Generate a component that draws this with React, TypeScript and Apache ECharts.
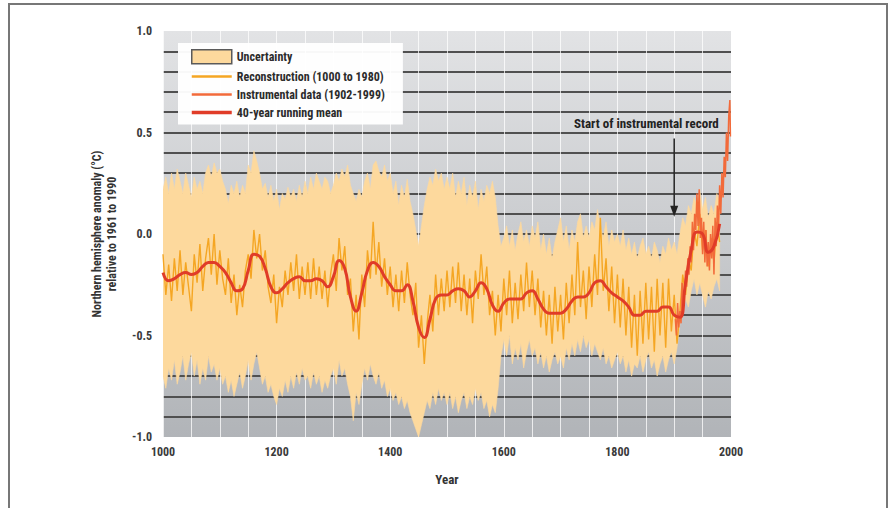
import React, { useEffect, useRef } from 'react';
import * as echarts from 'echarts';

const FONT = "'Liberation Sans Narrow', 'Roboto Condensed', 'DejaVu Sans Condensed', sans-serif";

// Reconstruction, sampled every 5 years from 1000 to 1980
const RECON_START = 1000;
const RECON_STEP = 5;
const reconValues = [
  -0.10, -0.30, -0.15, -0.33, -0.12, -0.28, -0.08, -0.30, -0.14, -0.26, -0.38, -0.10, -0.24, -0.05, -0.28, -0.12, -0.02, -0.20, 0.00, -0.25,
  -0.08, -0.22, -0.30, -0.12, -0.34, -0.20, -0.40, -0.25, -0.36, -0.18, -0.10, -0.22, 0.02, -0.12, 0.00, -0.18, -0.08, -0.26, -0.34, -0.20,
  -0.44, -0.26, -0.36, -0.18, -0.30, -0.14, -0.28, -0.10, -0.32, -0.16, -0.30, -0.14, -0.32, -0.12, -0.30, -0.16, -0.32, -0.18, -0.36, -0.20,
  -0.10, -0.28, -0.02, -0.18, -0.06, -0.30, -0.22, -0.48, -0.30, -0.52, -0.20, -0.36, -0.08, -0.22, 0.06, -0.20, -0.04, -0.26, -0.12, -0.30,
  -0.16, -0.36, -0.20, -0.38, -0.18, -0.34, -0.14, -0.30, -0.40, -0.24, -0.56, -0.40, -0.64, -0.44, -0.30, -0.48, -0.20, -0.40, -0.22, -0.38,
  -0.18, -0.36, -0.16, -0.34, -0.14, -0.38, -0.20, -0.40, -0.22, -0.44, -0.18, -0.32, -0.10, -0.30, -0.16, -0.40, -0.28, -0.50, -0.30, -0.48,
  -0.22, -0.40, -0.18, -0.44, -0.24, -0.42, -0.20, -0.38, -0.14, -0.36, -0.18, -0.40, -0.22, -0.46, -0.28, -0.50, -0.30, -0.54, -0.26, -0.48,
  -0.30, -0.52, -0.24, -0.44, -0.20, -0.40, -0.04, -0.36, -0.18, -0.42, -0.16, -0.36, -0.10, -0.30, 0.08, -0.28, -0.12, -0.38, -0.16, -0.44,
  -0.20, -0.46, -0.22, -0.50, -0.26, -0.56, -0.30, -0.60, -0.28, -0.54, -0.24, -0.52, -0.26, -0.58, -0.22, -0.50, -0.24, -0.56, -0.22, -0.48,
  -0.30, -0.54, -0.38, -0.20, -0.30, -0.12, -0.18, 0.02, -0.06, 0.10, -0.08, 0.02, -0.16, -0.02, -0.14, 0.06, -0.04,
];

// Uncertainty band, same sampling
const bandUpper = [
  0.22, 0.28, 0.20, 0.30, 0.22, 0.32, 0.26, 0.20, 0.30, 0.24, 0.18, 0.28, 0.22, 0.26, 0.20, 0.30, 0.34, 0.28, 0.35, 0.30,
  0.32, 0.26, 0.22, 0.15, 0.24, 0.20, 0.26, 0.18, 0.24, 0.20, 0.34, 0.30, 0.41, 0.36, 0.30, 0.22, 0.25, 0.18, 0.24, 0.16,
  0.22, 0.12, 0.20, 0.17, 0.23, 0.18, 0.22, 0.16, 0.24, 0.18, 0.26, 0.20, 0.28, 0.22, 0.30, 0.26, 0.22, 0.28, 0.26, 0.20,
  0.24, 0.30, 0.26, 0.32, 0.28, 0.34, 0.24, 0.20, 0.16, 0.22, 0.18, 0.26, 0.30, 0.22, 0.34, 0.36, 0.31, 0.28, 0.34, 0.26,
  0.30, 0.20, 0.26, 0.14, 0.24, 0.18, 0.27, 0.16, 0.10, 0.02, -0.06, 0.04, 0.14, 0.22, 0.28, 0.24, 0.32, 0.26, 0.30, 0.22,
  0.28, 0.22, 0.30, 0.18, 0.26, 0.20, 0.28, 0.14, 0.24, 0.18, 0.26, 0.12, 0.22, 0.16, 0.24, 0.20, 0.26, 0.18, 0.04, -0.06,
  -0.02, 0.04, -0.06, 0.02, -0.08, 0.00, 0.06, -0.04, 0.02, -0.06, 0.04, -0.02, 0.06, -0.08, 0.00, -0.10, -0.02, -0.12, -0.04, 0.02,
  0.08, -0.04, 0.04, -0.08, 0.02, -0.04, 0.06, 0.10, -0.02, 0.04, -0.02, 0.06, 0.02, 0.12, 0.04, -0.02, 0.06, -0.06, 0.02, -0.04,
  0.00, -0.06, 0.02, -0.08, -0.02, -0.10, -0.04, -0.12, -0.06, -0.02, -0.10, -0.06, -0.12, -0.04, -0.08, -0.14, -0.06, -0.10, -0.02, -0.08,
  -0.04, -0.10, 0.00, 0.08, 0.04, 0.14, 0.10, 0.18, 0.14, 0.22, 0.12, 0.18, 0.08, 0.14, 0.10, 0.20, 0.16,
];
const bandLower = [
  -0.70, -0.76, -0.66, -0.72, -0.62, -0.74, -0.68, -0.60, -0.72, -0.64, -0.58, -0.70, -0.62, -0.74, -0.66, -0.72, -0.60, -0.68, -0.64, -0.72,
  -0.66, -0.74, -0.70, -0.78, -0.72, -0.80, -0.74, -0.68, -0.76, -0.70, -0.62, -0.72, -0.64, -0.58, -0.66, -0.74, -0.70, -0.78, -0.74, -0.80,
  -0.84, -0.76, -0.80, -0.72, -0.78, -0.70, -0.76, -0.68, -0.74, -0.66, -0.72, -0.70, -0.76, -0.68, -0.74, -0.70, -0.78, -0.72, -0.76, -0.70,
  -0.66, -0.74, -0.62, -0.70, -0.66, -0.74, -0.80, -0.92, -0.78, -0.84, -0.74, -0.66, -0.72, -0.64, -0.70, -0.74, -0.68, -0.76, -0.72, -0.80,
  -0.76, -0.82, -0.78, -0.84, -0.80, -0.86, -0.82, -0.88, -0.92, -0.96, -1.00, -0.94, -0.88, -0.82, -0.86, -0.78, -0.84, -0.76, -0.82, -0.78,
  -0.84, -0.78, -0.86, -0.80, -0.88, -0.82, -0.78, -0.86, -0.80, -0.84, -0.76, -0.82, -0.78, -0.86, -0.82, -0.90, -0.84, -0.88, -0.76, -0.60,
  -0.52, -0.60, -0.50, -0.64, -0.56, -0.62, -0.54, -0.66, -0.58, -0.52, -0.60, -0.56, -0.64, -0.58, -0.66, -0.60, -0.68, -0.62, -0.58, -0.64,
  -0.60, -0.66, -0.56, -0.62, -0.54, -0.60, -0.52, -0.58, -0.50, -0.56, -0.52, -0.60, -0.54, -0.58, -0.62, -0.56, -0.64, -0.60, -0.66, -0.62,
  -0.58, -0.64, -0.60, -0.68, -0.62, -0.70, -0.64, -0.66, -0.60, -0.68, -0.62, -0.58, -0.66, -0.62, -0.70, -0.64, -0.60, -0.68, -0.62, -0.58,
  -0.64, -0.56, -0.44, -0.40, -0.32, -0.36, -0.28, -0.22, -0.30, -0.24, -0.30, -0.36, -0.28, -0.32, -0.26, -0.22, -0.28,
];

// 40-year running mean, every 10 years from 1000 to 1980
const MEAN_START = 1000;
const MEAN_STEP = 10;
const meanValues = [
  -0.19, -0.23, -0.22, -0.20, -0.19, -0.20, -0.19, -0.16, -0.14, -0.14,
  -0.16, -0.19, -0.24, -0.28, -0.27, -0.18, -0.10, -0.11, -0.17, -0.26,
  -0.29, -0.27, -0.24, -0.22, -0.21, -0.23, -0.23, -0.22, -0.23, -0.26,
  -0.21, -0.13, -0.17, -0.31, -0.38, -0.29, -0.18, -0.14, -0.16, -0.21,
  -0.25, -0.28, -0.28, -0.25, -0.33, -0.46, -0.51, -0.42, -0.32, -0.30,
  -0.30, -0.28, -0.27, -0.28, -0.31, -0.28, -0.24, -0.27, -0.35, -0.38,
  -0.34, -0.32, -0.32, -0.32, -0.29, -0.28, -0.32, -0.37, -0.39, -0.39,
  -0.39, -0.37, -0.33, -0.31, -0.31, -0.29, -0.24, -0.23, -0.26, -0.29,
  -0.31, -0.33, -0.36, -0.40, -0.40, -0.38, -0.38, -0.38, -0.36, -0.36,
  -0.40, -0.41, -0.24, -0.08, 0.01, 0.00, -0.09, -0.06, 0.05,
];

// Instrumental record 1902-1999
const instrYears = [
  1902, 1904, 1906, 1908, 1910, 1912, 1914, 1916, 1918, 1920, 1922, 1924, 1926, 1928, 1930, 1932, 1934, 1936, 1938, 1940,
  1942, 1944, 1946, 1948, 1950, 1952, 1954, 1956, 1958, 1960, 1962, 1964, 1966, 1968, 1970, 1972, 1974, 1976, 1978, 1980,
  1982, 1984, 1986, 1988, 1990, 1992, 1994, 1996, 1998, 1999,
];
const instrValues = [
  -0.42, -0.50, -0.34, -0.46, -0.38, -0.44, -0.24, -0.36, -0.28, -0.18, -0.26, -0.12, -0.20, -0.06, -0.14, 0.06, -0.08, 0.10, 0.02, 0.20,
  0.04, 0.22, -0.02, 0.08, -0.10, 0.06, -0.14, 0.02, -0.16, -0.04, -0.18, 0.00, -0.12, 0.04, -0.20, 0.08, -0.06, 0.14, 0.02, 0.24,
  0.10, 0.30, 0.18, 0.38, 0.28, 0.50, 0.36, 0.58, 0.66, 0.48,
];

const ANNOTATION = 'Start of instrumental record';
const ARROW_YEAR = 1900;

const BAND_COLOR = '#fdd99d';

export default function App() {
  const ref = useRef<HTMLDivElement>(null);

  useEffect(() => {
    const chart = echarts.init(ref.current!, null, { renderer: 'svg' });
    const yr = (i: number) => RECON_START + i * RECON_STEP;
    const reconData = reconValues.map((v, i) => [yr(i), v]);
    const bandData = bandUpper.map((v, i) => [yr(i), v, bandLower[i]]);
    const meanData = meanValues.map((v, i) => [MEAN_START + i * MEAN_STEP, v]);
    const instrData = instrValues.map((v, i) => [instrYears[i], v]);

    const bandRender = (params: any, api: any) => {
      if (params.dataIndex !== 0) return null;
      const pts: number[][] = [];
      for (let i = 0; i < bandData.length; i++) pts.push(api.coord([bandData[i][0], bandData[i][1]]));
      for (let i = bandData.length - 1; i >= 0; i--) pts.push(api.coord([bandData[i][0], bandData[i][2]]));
      return {
        type: 'polygon',
        shape: { points: pts },
        style: { fill: BAND_COLOR, stroke: BAND_COLOR, lineWidth: 0.6 },
        silent: true,
      };
    };

    const lineLegend = (w: number) => ({ lineStyle: { width: w }, itemStyle: { opacity: 0 } });

    const option: any = {
      animation: false,
      grid: {
        left: 163,
        top: 31,
        width: 568,
        height: 406,
        show: true,
        borderWidth: 0,
        outerBoundsMode: 'none',
        backgroundColor: new echarts.graphic.LinearGradient(0, 0, 0, 1, [
          { offset: 0, color: '#e2e3e5' },
          { offset: 1, color: '#b1b4b8' },
        ]),
      },
      legend: {
        orient: 'vertical',
        left: 178,
        top: 43,
        backgroundColor: 'rgba(255,255,255,0.96)',
        padding: [6, 18, 6, 12],
        itemWidth: 40,
        itemHeight: 14,
        itemGap: 6,
        textStyle: { fontFamily: FONT, fontWeight: 'bold', fontSize: 12, color: '#2b2b2b' },
        data: [
          { name: 'Uncertainty', icon: 'rect', itemStyle: { color: BAND_COLOR, borderColor: '#5a5a5a', borderWidth: 1.5 } },
          { name: 'Reconstruction (1000 to 1980)', ...lineLegend(2.5) },
          { name: 'Instrumental data (1902-1999)', ...lineLegend(2.5) },
          { name: '40-year running mean', ...lineLegend(3.5) },
        ],
      },
      xAxis: {
        type: 'value',
        min: 1000,
        max: 2000,
        interval: 200,
        name: 'Year',
        nameLocation: 'middle',
        nameGap: 36,
        nameTextStyle: { fontFamily: FONT, fontWeight: 'bold', fontSize: 13, color: '#333' },
        axisLine: { show: false },
        axisTick: { show: false },
        axisLabel: {
          margin: 9,
          fontFamily: FONT,
          fontWeight: 'bold',
          fontSize: 12,
          color: '#3a3a3a',
          formatter: (v: number) => String(Math.round(v)),
        },
        splitLine: { show: true, lineStyle: { color: 'rgba(255,255,255,0.75)', width: 1 } },
        minorTick: { show: false, splitNumber: 4 },
        minorSplitLine: { show: true, lineStyle: { color: 'rgba(255,255,255,0.75)', width: 1 } },
      },
      yAxis: {
        type: 'value',
        min: -1,
        max: 1,
        interval: 0.1,
        name: 'Northern hemisphere anomaly (°C)\nrelative to 1961 to 1990',
        nameLocation: 'middle',
        nameRotate: 90,
        nameGap: 44,
        nameTextStyle: { fontFamily: FONT, fontWeight: 'bold', fontSize: 12, lineHeight: 15, color: '#333' },
        axisLine: { show: false },
        axisTick: { show: false },
        axisLabel: {
          margin: 11,
          fontFamily: FONT,
          fontWeight: 'bold',
          fontSize: 12,
          color: '#3a3a3a',
          formatter: (v: number) => {
            const r = Math.round(v * 10) / 10;
            if (Math.abs(r * 2 - Math.round(r * 2)) > 1e-6) return '';
            return r.toFixed(1);
          },
        },
        splitLine: { show: true, showMinLine: false, showMaxLine: false, lineStyle: { color: '#505050', width: 2 } },
      },
      series: [
        {
          name: 'Uncertainty',
          type: 'custom',
          data: bandData,
          encode: { x: 0, y: [1, 2] },
          renderItem: bandRender,
          itemStyle: { color: BAND_COLOR },
          clip: true,
          silent: true,
        },
        {
          name: 'Reconstruction (1000 to 1980)',
          type: 'line',
          data: reconData,
          symbol: 'none',
          color: '#f5a623',
          lineStyle: { color: '#f5a623', width: 1.4 },
        },
        {
          name: 'Instrumental data (1902-1999)',
          type: 'line',
          data: instrData,
          symbol: 'none',
          color: '#f26a3a',
          lineStyle: { color: '#f26a3a', width: 1.5 },
        },
        {
          name: '40-year running mean',
          type: 'line',
          data: meanData,
          symbol: 'none',
          smooth: 0.5,
          color: '#e03c28',
          lineStyle: { color: '#e03c28', width: 3 },
        },
      ],
    };
    chart.setOption(option);

    const top = chart.convertToPixel({ gridIndex: 0 }, [ARROW_YEAR, 0.47]) as number[];
    const tip = chart.convertToPixel({ gridIndex: 0 }, [ARROW_YEAR, 0.085]) as number[];
    const txt = chart.convertToPixel({ gridIndex: 0 }, [1851, 0.545]) as number[];

    chart.setOption({
      graphic: [
        {
          type: 'rect',
          shape: { x: 9, y: 4, width: 878, height: 540 },
          style: { fill: 'none', stroke: '#777', lineWidth: 2 },
          silent: true,
        },
        {
          type: 'line',
          shape: { x1: top[0], y1: top[1], x2: tip[0], y2: tip[1] - 6 },
          style: { stroke: '#222', lineWidth: 1.5 },
          silent: true,
        },
        {
          type: 'polygon',
          shape: { points: [[tip[0] - 4, tip[1] - 11], [tip[0] + 4, tip[1] - 11], [tip[0], tip[1]]] },
          style: { fill: '#222' },
          silent: true,
        },
        {
          type: 'text',
          x: txt[0],
          y: txt[1],
          style: {
            text: ANNOTATION,
            fontFamily: FONT,
            fontWeight: 'bold',
            fontSize: 13,
            fill: '#222',
            textAlign: 'center',
            textVerticalAlign: 'middle',
          },
          silent: true,
        },
      ],
    });

    return () => chart.dispose();
  }, []);

  return <div ref={ref} style={{ position: 'fixed', left: 0, top: 0, width: 891, height: 508, background: '#fff' }} />;
}
